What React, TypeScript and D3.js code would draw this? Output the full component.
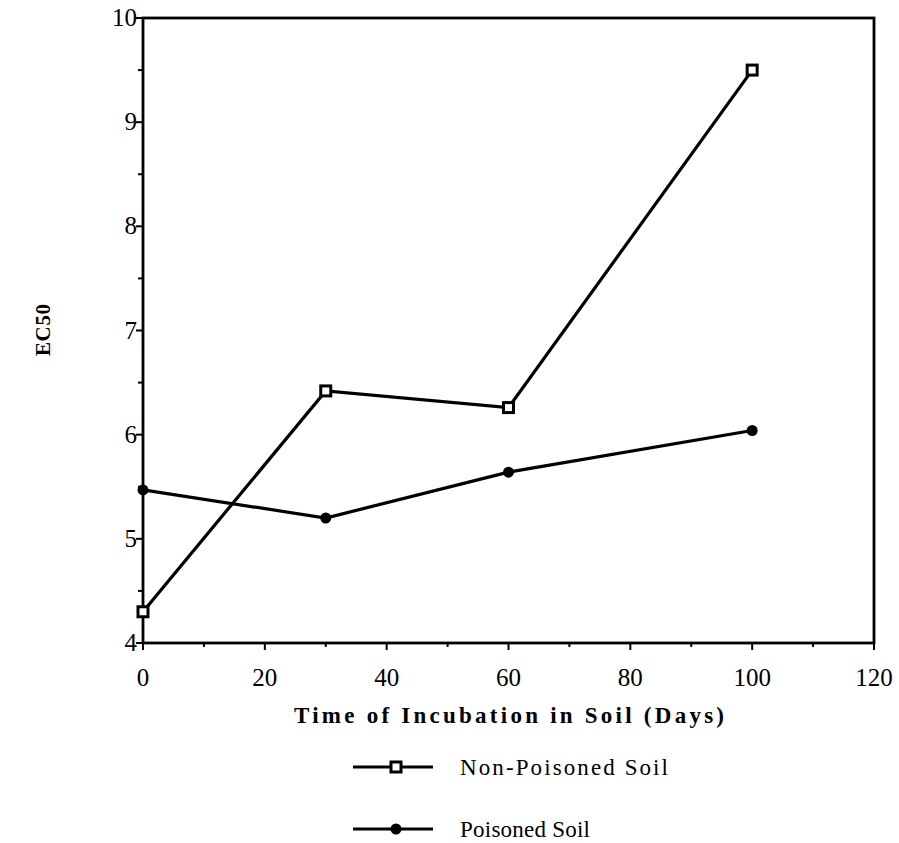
import React, { useEffect, useRef } from "react";
import * as d3 from "d3";

const days = [0, 30, 60, 100];
const nonPoisoned = [4.3, 6.42, 6.26, 9.5];
const poisoned = [5.47, 5.2, 5.64, 6.04];
const xTicks = [0, 20, 40, 60, 80, 100, 120];
const yTicks = [4, 5, 6, 7, 8, 9, 10];
const seriesNames = ["Non-Poisoned Soil", "Poisoned Soil"];

function App() {
  const ref = useRef<SVGSVGElement>(null);

  useEffect(() => {
    const svg = d3.select(ref.current);
    svg.selectAll("*").remove();

    const margin = { top: 18, left: 143 };
    const x = d3.scaleLinear().domain([0, 120]).range([margin.left, 874]);
    const y = d3.scaleLinear().domain([4, 10]).range([643, margin.top]);
    const font = "'Liberation Serif', 'DejaVu Serif', serif";

    const g = svg.append("g");

    // frame
    g.append("rect")
      .attr("x", x(0)).attr("y", y(10))
      .attr("width", x(120) - x(0)).attr("height", y(4) - y(10))
      .attr("fill", "none").attr("stroke", "#000").attr("stroke-width", 2.8);

    // x ticks
    d3.range(0, 121, 10).forEach((t) => {
      const major = t % 20 === 0;
      g.append("line")
        .attr("x1", x(t)).attr("x2", x(t))
        .attr("y1", y(4)).attr("y2", y(4) + (major ? 7 : 4))
        .attr("stroke", "#000").attr("stroke-width", 2);
    });
    g.selectAll(".xl").data(xTicks).enter().append("text")
      .attr("x", (d) => x(d)).attr("y", 686)
      .attr("text-anchor", "middle")
      .style("font-family", font).style("font-size", "25px")
      .text((d) => d);

    // y ticks
    d3.range(4, 10.01, 0.5).forEach((t) => {
      const major = Math.abs(t - Math.round(t)) < 0.01;
      g.append("line")
        .attr("x1", x(0)).attr("x2", x(0) - (major ? 7 : 5))
        .attr("y1", y(t)).attr("y2", y(t))
        .attr("stroke", "#000").attr("stroke-width", 2);
    });
    g.selectAll(".yl").data(yTicks).enter().append("text")
      .attr("x", 137).attr("y", (d) => y(d) + 8)
      .attr("text-anchor", "end")
      .style("font-family", font).style("font-size", "25px")
      .text((d) => d);

    // axis titles
    g.append("text")
      .attr("x", 294).attr("y", 723)
      .style("font-family", font).style("font-size", "23px").style("font-weight", "bold")
      .attr("textLength", 430).attr("lengthAdjust", "spacing")
      .text("Time of Incubation in Soil (Days)");
    g.append("text")
      .attr("transform", "translate(50,356) rotate(-90)")
      .style("font-family", font).style("font-size", "21px").style("font-weight", "bold")
      .attr("textLength", 52).attr("lengthAdjust", "spacing")
      .text("EC50");

    const line = d3.line<[number, number]>().x((d) => x(d[0])).y((d) => y(d[1]));
    const all = [nonPoisoned, poisoned];
    all.forEach((vals, i) => {
      const pts = days.map((d, j) => [d, vals[j]] as [number, number]);
      g.append("path").attr("d", line(pts)!)
        .attr("fill", "none").attr("stroke", "#000").attr("stroke-width", 3.2);
      pts.forEach((p) => drawMarker(g, i, x(p[0]), y(p[1])));
    });

    // legend
    const legY = [767, 829];
    const legW = [208, 130];
    seriesNames.forEach((name, i) => {
      g.append("line")
        .attr("x1", 353).attr("x2", 433).attr("y1", legY[i]).attr("y2", legY[i])
        .attr("stroke", "#000").attr("stroke-width", 3);
      drawMarker(g, i, 396, legY[i]);
      g.append("text")
        .attr("x", 460).attr("y", legY[i] + 8)
        .style("font-family", font).style("font-size", "23px")
        .attr("textLength", legW[i]).attr("lengthAdjust", "spacing")
        .text(name);
    });
  }, []);

  function drawMarker(g: any, i: number, cx: number, cy: number) {
    if (i === 0) {
      g.append("rect")
        .attr("x", cx - 5).attr("y", cy - 5)
        .attr("width", 10).attr("height", 10)
        .attr("fill", "#fff").attr("stroke", "#000").attr("stroke-width", 3);
    } else {
      g.append("circle").attr("cx", cx).attr("cy", cy).attr("r", 5.5).attr("fill", "#000");
    }
  }

  return (
    <div style={{ position: "absolute", left: 0, top: 0 }}>
      <svg ref={ref} width={899} height={843} style={{ display: "block", background: "#fff" }} />
    </div>
  );
}

export default App;
